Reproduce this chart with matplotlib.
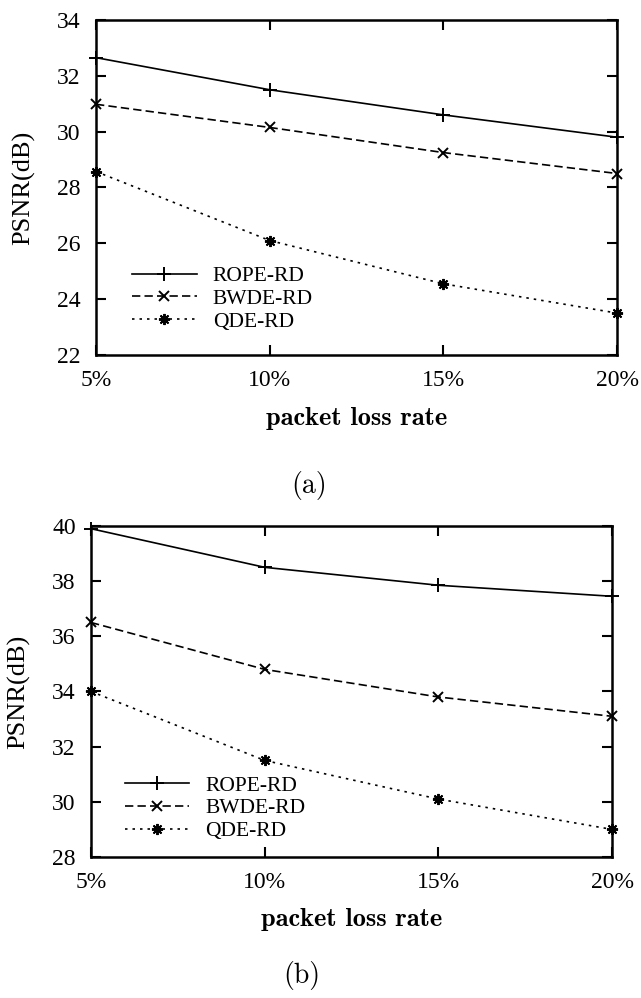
"""
PSNR vs packet loss rate for ROPE-RD, BWDE-RD and QDE-RD, two sequences (a) and (b).
"""
import matplotlib

matplotlib.use("Agg")
import matplotlib.pyplot as plt

plt.rcParams["font.family"] = "serif"
plt.rcParams["font.serif"] = ["Liberation Serif", "DejaVu Serif"]

loss_rates = [5, 10, 15, 20]
loss_labels = ["5%", "10%", "15%", "20%"]
series_names = ["ROPE-RD", "BWDE-RD", "QDE-RD"]

# panel (a)
psnr_a_rope = [32.65, 31.5, 30.6, 29.8]
psnr_a_bwde = [30.98, 30.15, 29.25, 28.5]
psnr_a_qde = [28.57, 26.1, 24.55, 23.5]
yticks_a = [22, 24, 26, 28, 30, 32, 34]

# panel (b)
psnr_b_rope = [39.9, 38.5, 37.85, 37.45]
psnr_b_bwde = [36.5, 34.8, 33.8, 33.1]
psnr_b_qde = [34.0, 31.5, 30.1, 29.0]
yticks_b = [28, 30, 32, 34, 36, 38, 40]

STYLES = [
    dict(linestyle="-", marker="+", markersize=10),
    dict(linestyle=(0, (5, 2.5)), marker="x", markersize=7),
    dict(linestyle=(0, (1.5, 3)), marker=(8, 2, 0), markersize=8),
]


def draw_panel(ax, series, yticks, legend_anchor):
    for name, values, style in zip(series_names, series, STYLES):
        ax.plot(loss_rates, values, color="black", linewidth=1.2,
                markeredgewidth=1.4, clip_on=False, label=name, **style)
    ax.set_xlim(loss_rates[0], loss_rates[-1])
    ax.set_ylim(yticks[0], yticks[-1])
    ax.set_xticks(loss_rates)
    ax.set_xticklabels(loss_labels)
    ax.set_yticks(yticks)
    ax.tick_params(direction="in", length=7, width=1.5, labelsize=17,
                   top=True, right=True, pad=11)
    for spine in ax.spines.values():
        spine.set_linewidth(1.8)
    # bold computer-modern face for the axis title, as in the LaTeX source
    ax.set_xlabel("packet loss rate", fontsize=19, family="cmb10", va="center")
    ax.xaxis.set_label_coords(0.5, -0.19)
    ax.set_ylabel("PSNR(dB)", fontsize=19, va="center")
    ax.yaxis.set_label_coords(-0.139, 0.5)
    ax.legend(loc="lower left", bbox_to_anchor=legend_anchor, frameon=False,
              fontsize=15.5, handlelength=3.0, handletextpad=0.75,
              labelspacing=0.12, borderpad=0, borderaxespad=0)


fig = plt.figure(figsize=(6.41, 9.98), dpi=100)

ax_a = fig.add_axes([0.1498, 0.6443, 0.8128, 0.3357])
draw_panel(ax_a, [psnr_a_rope, psnr_a_bwde, psnr_a_qde], yticks_a, (0.069, 0.07))
fig.text(0.482, 0.514, "(a)", ha="center", va="center", fontsize=20, family="cmr10")

ax_b = fig.add_axes([0.142, 0.1413, 0.8128, 0.3317])
draw_panel(ax_b, [psnr_b_rope, psnr_b_bwde, psnr_b_qde], yticks_b, (0.065, 0.048))
fig.text(0.471, 0.023, "(b)", ha="center", va="center", fontsize=20, family="cmr10")

fig.savefig("out.png", dpi=100)
